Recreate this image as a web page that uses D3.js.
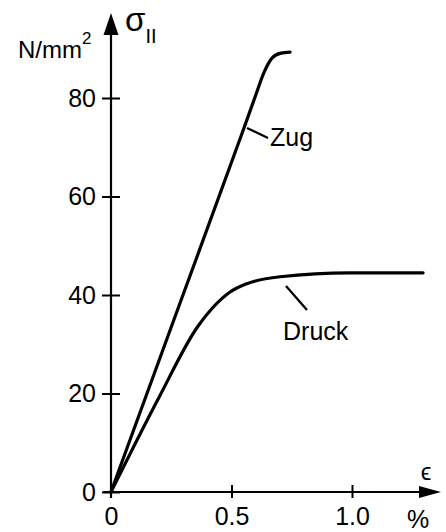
<!DOCTYPE html>
<html>
<head>
<meta charset="utf-8">
<script src="https://cdn.jsdelivr.net/npm/d3@7"></script>
<style>
  body { margin: 0; background: #fff; }
  text { font-family: "Liberation Sans", Arial, sans-serif; fill: #000; }
</style>
</head>
<body>
<div class="chart"></div>
<script>
// Dehnung in %, Spannung in N/mm2
const zugStrain = [0, 0.28, 0.545, 0.6, 0.635, 0.668, 0.705, 0.743];
const zugStress = [0, 37.5, 73, 80.5, 85.2, 88.1, 89.1, 89.3];
const druckStrain = [0, 0.2, 0.36, 0.42, 0.494, 0.564, 0.701, 0.992, 1.295];
const druckStress = [0, 19.3, 33.6, 37.3, 40.6, 42.3, 43.7, 44.5, 44.5];
const xTicks = [0, 0.5, 1.0];
const xTickLabels = ["0", "0.5", "1.0"];
const yTicks = [0, 20, 40, 60, 80];

const width = 446;
const height = 532;

const svg = d3.select('.chart')
    .append('svg')
    .attr('width', width)
    .attr('height', height);

const x = d3.scaleLinear().domain([0, 1]).range([111, 352]);
const y = d3.scaleLinear().domain([0, 80]).range([492, 98]);

// Achsen
const yAxis = svg.append('g')
    .attr('transform', `translate(${x(0)},0)`)
    .call(d3.axisLeft(y).tickValues(yTicks).tickSize(9).tickPadding(6));
yAxis.select('.domain').remove();
yAxis.selectAll('.tick line').attr('x1', -9).attr('x2', 9).attr('stroke-width', 2);
yAxis.selectAll('.tick text')
    .attr('x', -15)
    .style('font-size', '25px')
    .style('font-family', '"Liberation Sans", Arial, sans-serif');

const xAxis = svg.append('g')
    .attr('transform', `translate(0,${y(0)})`)
    .call(d3.axisBottom(x).tickValues(xTicks).tickFormat((d, i) => xTickLabels[i]).tickSize(7));
xAxis.select('.domain').remove();
xAxis.selectAll('.tick line')
    .attr('y1', d => d === 0 ? 0 : -7)
    .attr('y2', d => d === 0 ? 0 : 6)
    .attr('stroke-width', 2);
xAxis.selectAll('.tick text')
    .attr('y', 15)
    .attr('dy', '0.71em')
    .style('font-size', '25px')
    .style('font-family', '"Liberation Sans", Arial, sans-serif');

// Achsenlinien mit Pfeilen
svg.append('line')
    .attr('x1', x(0)).attr('x2', x(0))
    .attr('y1', y(0) + 6).attr('y2', 30)
    .attr('stroke', '#000').attr('stroke-width', 2.2);
svg.append('path')
    .attr('d', `M${x(0)},13 L${x(0) - 7.5},35 L${x(0) + 7.5},35 Z`)
    .attr('fill', '#000');

svg.append('line')
    .attr('x1', x(0) - 8).attr('x2', 424)
    .attr('y1', y(0)).attr('y2', y(0))
    .attr('stroke', '#000').attr('stroke-width', 2.2);
svg.append('path')
    .attr('d', `M441,${y(0)} L419,${y(0) - 6} L419,${y(0) + 6} Z`)
    .attr('fill', '#000');

// Kurven
const line = d3.line()
    .x(d => x(d[0]))
    .y(d => y(d[1]))
    .curve(d3.curveMonotoneX);

const zug = zugStrain.map((v, i) => [v, zugStress[i]]);
const druck = druckStrain.map((v, i) => [v, druckStress[i]]);

svg.append('path')
    .datum(zug)
    .attr('d', line)
    .attr('fill', 'none')
    .attr('stroke', '#000')
    .attr('stroke-width', 3.2)
    .attr('stroke-linecap', 'round');

svg.append('path')
    .datum(druck)
    .attr('d', line)
    .attr('fill', 'none')
    .attr('stroke', '#000')
    .attr('stroke-width', 3.2)
    .attr('stroke-linecap', 'round');

// Beschriftungen
svg.append('line')
    .attr('x1', 247).attr('y1', 128).attr('x2', 268).attr('y2', 138)
    .attr('stroke', '#000').attr('stroke-width', 2.2);
svg.append('text')
    .attr('x', 270).attr('y', 146)
    .style('font-size', '25px')
    .text('Zug');

svg.append('line')
    .attr('x1', 286).attr('y1', 286).attr('x2', 307).attr('y2', 310)
    .attr('stroke', '#000').attr('stroke-width', 2.2);
svg.append('text')
    .attr('x', 283).attr('y', 340)
    .style('font-size', '25px')
    .text('Druck');

const unit = svg.append('text')
    .attr('x', 18).attr('y', 58)
    .style('font-size', '24px');
unit.append('tspan').text('N/mm');
unit.append('tspan').attr('dy', -14).style('font-size', '17px').text('2');

const sig = svg.append('text')
    .attr('x', 125).attr('y', 31)
    .style('font-size', '33px');
sig.append('tspan').text('σ');
sig.append('tspan').attr('dy', 12).attr('dx', 0).style('font-size', '20px').text('II');

svg.append('text')
    .attr('x', 426).attr('y', 480)
    .attr('text-anchor', 'middle')
    .style('font-size', '24px')
    .text('ϵ');

svg.append('text')
    .attr('x', 418).attr('y', 528)
    .attr('text-anchor', 'middle')
    .style('font-size', '25px')
    .text('%');
</script>
</body>
</html>
